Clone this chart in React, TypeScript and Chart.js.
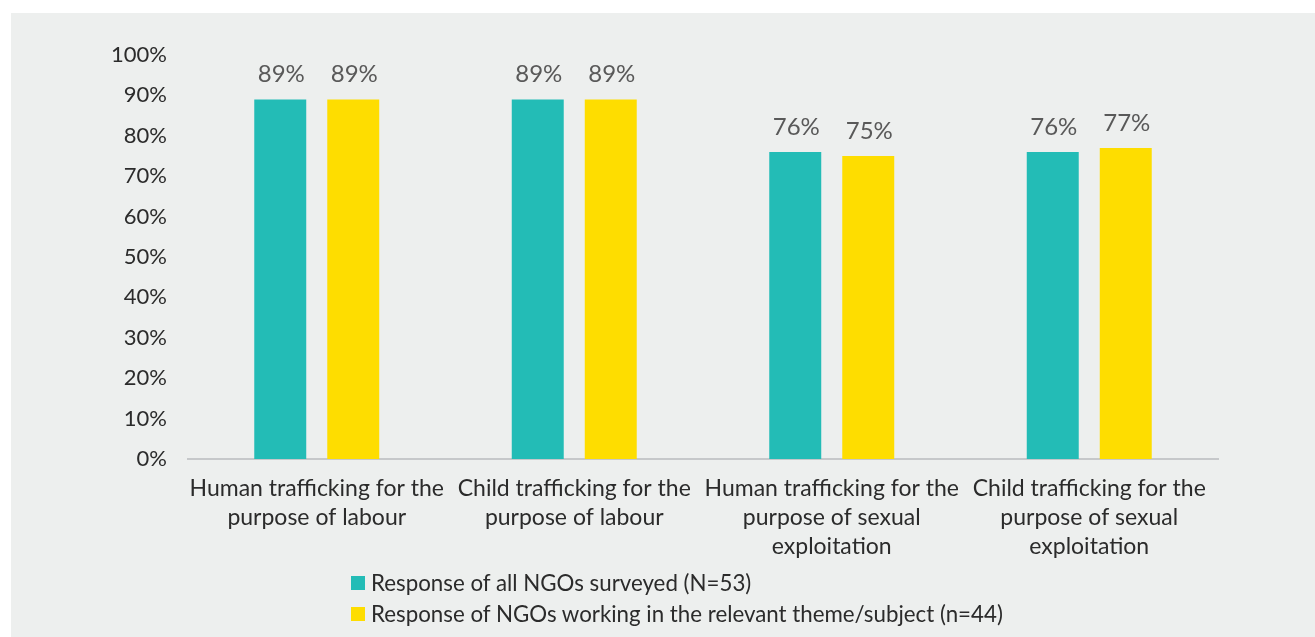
import React, { useEffect, useRef } from "react";
import { Chart, registerables } from "chart.js";

Chart.register(...registerables);

const categories: string[][] = [
  ["Human trafficking for the", "purpose of labour"],
  ["Child trafficking for the", "purpose of labour"],
  ["Human trafficking for the", "purpose of sexual", "exploitation"],
  ["Child trafficking for the", "purpose of sexual", "exploitation"],
];
const allNgos: number[] = [89, 89, 76, 76];
const relevantNgos: number[] = [89, 89, 75, 77];
const seriesNames: string[] = [
  "Response of all NGOs surveyed (N=53)",
  "Response of NGOs working in the relevant theme/subject (n=44)",
];
const seriesColors: string[] = ["#23bcb6", "#fedd00"];
const yMin = 0;
const yMax = 100;
const yStep = 10;

const FONT = "Lato, 'Liberation Sans', sans-serif";

const valueLabelPlugin = {
  id: "valueLabels",
  afterDatasetsDraw(chart: any) {
    const ctx = chart.ctx;
    ctx.save();
    ctx.font = `24px ${FONT}`;
    ctx.fillStyle = "#595959";
    ctx.textAlign = "center";
    ctx.textBaseline = "alphabetic";
    chart.data.datasets.forEach((ds: any, di: number) => {
      const meta = chart.getDatasetMeta(di);
      meta.data.forEach((bar: any, i: number) => {
        ctx.fillText(`${ds.data[i]}%`, bar.x + 1, bar.y - 17);
      });
    });
    ctx.restore();
  },
};

export default function App() {
  const canvasRef = useRef<HTMLCanvasElement | null>(null);

  useEffect(() => {
    if (!canvasRef.current) return;
    const chart = new Chart(canvasRef.current, {
      type: "bar",
      data: {
        labels: categories,
        datasets: [
          {
            label: seriesNames[0],
            data: allNgos,
            backgroundColor: seriesColors[0],
            categoryPercentage: 0.567,
            barPercentage: 0.712,
          },
          {
            label: seriesNames[1],
            data: relevantNgos,
            backgroundColor: seriesColors[1],
            categoryPercentage: 0.567,
            barPercentage: 0.712,
          },
        ],
      },
      options: {
        responsive: false,
        animation: false,
        layout: { padding: { top: 42, right: 97, bottom: 0, left: 0 } },
        plugins: {
          legend: { display: false },
          tooltip: { enabled: false },
        },
        scales: {
          x: {
            grid: { display: false, drawTicks: false },
            border: { display: true, color: "#c6c8ca", width: 2 },
            ticks: {
              color: "#2b2b2b",
              font: { family: FONT, size: 23, lineHeight: 1.26 },
              padding: 15,
              maxRotation: 0,
              autoSkip: false,
            },
            afterFit: (s: any) => {
              s.height = 178;
            },
          },
          y: {
            min: yMin,
            max: yMax,
            grid: { display: false, drawTicks: false },
            border: { display: false },
            ticks: {
              stepSize: yStep,
              color: "#2b2b2b",
              font: { family: FONT, size: 22 },
              padding: 21,
              callback: (v: any) => `${v}%`,
            },
            afterFit: (s: any) => {
              s.width = 177;
            },
          },
        },
      },
      plugins: [valueLabelPlugin],
    });
    return () => chart.destroy();
  }, []);

  return (
    <div
      style={{
        position: "absolute",
        left: 11,
        top: 13,
        width: 1304,
        height: 624,
        background: "#edefee",
        overflow: "hidden",
      }}
    >
      <canvas ref={canvasRef} width={1304} height={624} style={{ display: "block" }} />
      <div
        style={{
          position: "absolute",
          left: 340,
          top: 554,
          fontFamily: FONT,
          fontSize: 22.3,
          color: "#2b2b2b",
        }}
      >
        {seriesNames.map((name, i) => (
          <div key={name} style={{ display: "flex", alignItems: "center", height: 31, whiteSpace: "nowrap" }}>
            <span
              style={{
                display: "inline-block",
                width: 14,
                height: 14,
                background: seriesColors[i],
                marginRight: 6,
              }}
            />
            <span>{name}</span>
          </div>
        ))}
      </div>
    </div>
  );
}
